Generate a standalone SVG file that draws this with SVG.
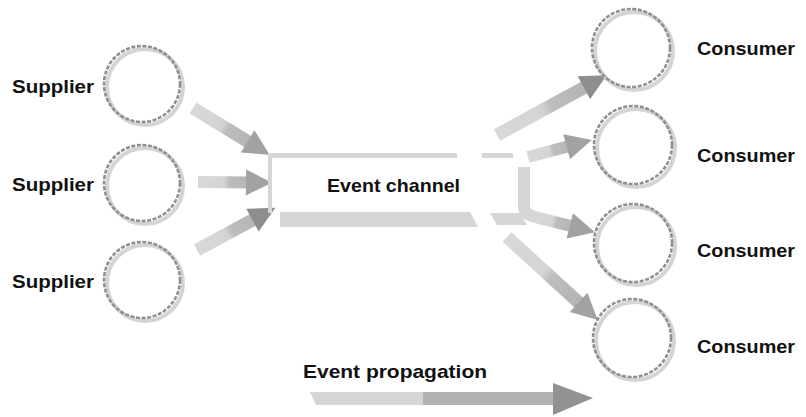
<svg xmlns="http://www.w3.org/2000/svg" width="806" height="417" viewBox="0 0 806 417">
  <style>
    .label { font-family: "Liberation Sans", Arial, sans-serif; font-weight: bold; font-size: 19px; fill: #111; }
    .ring-shadow { fill: none; stroke: #d4d4d4; stroke-width: 4; }
    .ring { fill: #fff; fill-opacity: 0; stroke: #8f8f8f; stroke-width: 2.6; stroke-dasharray: 4 1.6; }
    .bar { fill: #d6d6d6; }
    .shaft { fill: url(#shaftFill); }
    .head { fill: #a2a2a2; }
    .head-dark { fill: #8e8e8e; }
  </style>
  <defs>
    <linearGradient id="shaftFill" x1="0" y1="0" x2="1" y2="0">
      <stop offset="0" stop-color="#d8d8d8"/>
      <stop offset="0.5" stop-color="#d4d4d4"/>
      <stop offset="0.6" stop-color="#bdbdbd"/>
      <stop offset="1" stop-color="#b4b4b4"/>
    </linearGradient>
  </defs>

  <!-- connectors -->
  <g id="connectors">
    <!-- supplier -> channel -->
    <g transform="translate(193,108) rotate(31.4)">
      <rect class="shaft" x="0" y="-6.5" width="68" height="13"/>
      <polygon class="head" points="64,-13 90,0 64,13"/>
    </g>
    <g transform="translate(198,182) rotate(0.5)">
      <rect class="shaft" x="0" y="-6" width="52" height="12"/>
      <polygon class="head" points="48,-13 74,0 48,13"/>
    </g>
    <g transform="translate(197,250) rotate(-28.3)">
      <rect class="shaft" x="0" y="-6.5" width="67" height="13"/>
      <polygon class="head-dark" points="63,-13 89,0 63,13"/>
    </g>
    <!-- channel -> consumers -->
    <g transform="translate(497,135) rotate(-28.6)">
      <rect class="shaft" x="0" y="-6.5" width="103" height="13"/>
      <polygon class="head-dark" points="99,-13 125,0 99,13"/>
    </g>
    <g transform="translate(528,157) rotate(-14.9)">
      <rect class="shaft" x="0" y="-6" width="44" height="12"/>
      <polygon class="head" points="40,-13 66,0 40,13"/>
    </g>
    <path d="M524,167 V206 Q524,214 533,216" fill="none" stroke="#d6d6d6" stroke-width="12"/>
    <g transform="translate(531,216) rotate(14.2)">
      <rect class="shaft" x="0" y="-6" width="44" height="12"/>
      <polygon class="head" points="40,-13 66,0 40,13"/>
    </g>
    <g transform="translate(507,237) rotate(42.4)">
      <rect class="shaft" x="0" y="-6.5" width="101" height="13"/>
      <polygon class="head" points="97,-13 123,0 97,13"/>
    </g>
  </g>

  <!-- event channel -->
  <g id="event-channel">
    <rect class="bar" x="268" y="153" width="4" height="60"/>
    <rect class="bar" x="270" y="153" width="187" height="5"/>
    <rect class="bar" x="482" y="153" width="31" height="5"/>
    <polygon class="bar" points="280,212 470,212 478,227 280,227"/>
    <polygon class="bar" points="490,213 520,213 527,225 497,225"/>
    <text class="label" x="327" y="192" textLength="133" lengthAdjust="spacingAndGlyphs">Event channel</text>
  </g>

  <!-- suppliers -->
  <g id="supplier-1">
    <circle class="ring-shadow" cx="145" cy="87" r="38"/>
    <circle class="ring" cx="142" cy="84" r="38"/>
    <text class="label" x="12" y="93" textLength="82" lengthAdjust="spacingAndGlyphs">Supplier</text>
  </g>
  <g id="supplier-2">
    <circle class="ring-shadow" cx="145" cy="186" r="38"/>
    <circle class="ring" cx="142" cy="183" r="38"/>
    <text class="label" x="12" y="191" textLength="82" lengthAdjust="spacingAndGlyphs">Supplier</text>
  </g>
  <g id="supplier-3">
    <circle class="ring-shadow" cx="145" cy="283" r="38"/>
    <circle class="ring" cx="142" cy="280" r="38"/>
    <text class="label" x="12" y="288" textLength="82" lengthAdjust="spacingAndGlyphs">Supplier</text>
  </g>

  <!-- consumers -->
  <g id="consumer-1">
    <circle class="ring-shadow" cx="634" cy="51" r="39"/>
    <circle class="ring" cx="631" cy="48" r="39"/>
    <text class="label" x="697" y="55" textLength="98" lengthAdjust="spacingAndGlyphs">Consumer</text>
  </g>
  <g id="consumer-2">
    <circle class="ring-shadow" cx="636" cy="148" r="39"/>
    <circle class="ring" cx="633" cy="145" r="39"/>
    <text class="label" x="697" y="162" textLength="98" lengthAdjust="spacingAndGlyphs">Consumer</text>
  </g>
  <g id="consumer-3">
    <circle class="ring-shadow" cx="636" cy="246" r="39"/>
    <circle class="ring" cx="633" cy="243" r="39"/>
    <text class="label" x="697" y="257" textLength="98" lengthAdjust="spacingAndGlyphs">Consumer</text>
  </g>
  <g id="consumer-4">
    <circle class="ring-shadow" cx="635" cy="341" r="39"/>
    <circle class="ring" cx="632" cy="338" r="39"/>
    <text class="label" x="697" y="353" textLength="98" lengthAdjust="spacingAndGlyphs">Consumer</text>
  </g>

  <!-- legend: direction of event flow -->
  <g id="legend">
    <text class="label" x="303" y="378" textLength="184" lengthAdjust="spacingAndGlyphs">Event propagation</text>
    <polygon fill="#d6d6d6" points="310,392 424,392 424,405 316,405"/>
    <rect fill="#b2b2b2" x="423" y="392" width="133" height="13"/>
    <polygon fill="#929292" points="553,383 593,398 553,415"/>
  </g>
</svg>
